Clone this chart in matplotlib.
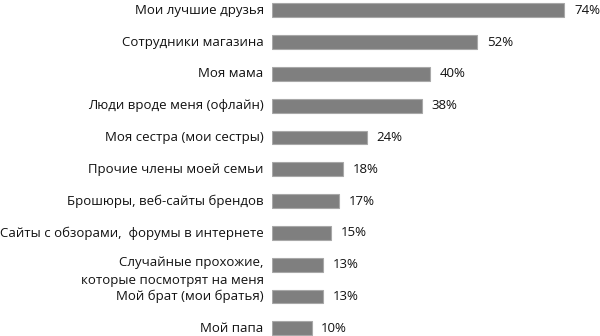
import matplotlib
matplotlib.use("Agg")
import matplotlib.pyplot as plt

plt.rcParams['font.family'] = ['Open Sans', 'DejaVu Sans']

labels = [
    "Мои лучшие друзья",
    "Сотрудники магазина",
    "Моя мама",
    "Люди вроде меня (офлайн)",
    "Моя сестра (мои сестры)",
    "Прочие члены моей семьи",
    "Брошюры, веб-сайты брендов",
    "Сайты с обзорами,  форумы в интернете",
    "Случайные прохожие,\nкоторые посмотрят на меня",
    "Мой брат (мои братья)",
    "Мой папа",
]
values = [74, 52, 40, 38, 24, 18, 17, 15, 13, 13, 10]

W, H = 600, 336
fig = plt.figure(figsize=(W / 100, H / 100), dpi=100)
ax = fig.add_axes([272 / W, 0, 316 / W, 1])

pos = list(range(len(values)))
ax.barh(pos, values, height=0.44, color='#7f7f7f', edgecolor='#a8a8a8', linewidth=0.8)

step = 31.8
ax.set_xlim(0, 80)
ax.set_ylim((H - 10.3) / step, -10.3 / step)
ax.axis('off')

txt = dict(fontsize=9.5, color='#111111', textcoords='offset points')
for y, (lab, v) in enumerate(zip(labels, values)):
    # long labels wrap: first line sits at the bar, the rest hangs below it
    for k, line in enumerate(lab.split("\n")):
        ax.annotate(line, xy=(0, y), xytext=(-6, 1.5 - 13 * k) if "\n" in lab else (-6, 0),
                    ha='right', va='center', **txt)
    ax.annotate(f"{v}%", xy=(v, y), xytext=(7, 0), ha='left', va='center', **txt)

fig.savefig('out.png', dpi=100, facecolor='white')
